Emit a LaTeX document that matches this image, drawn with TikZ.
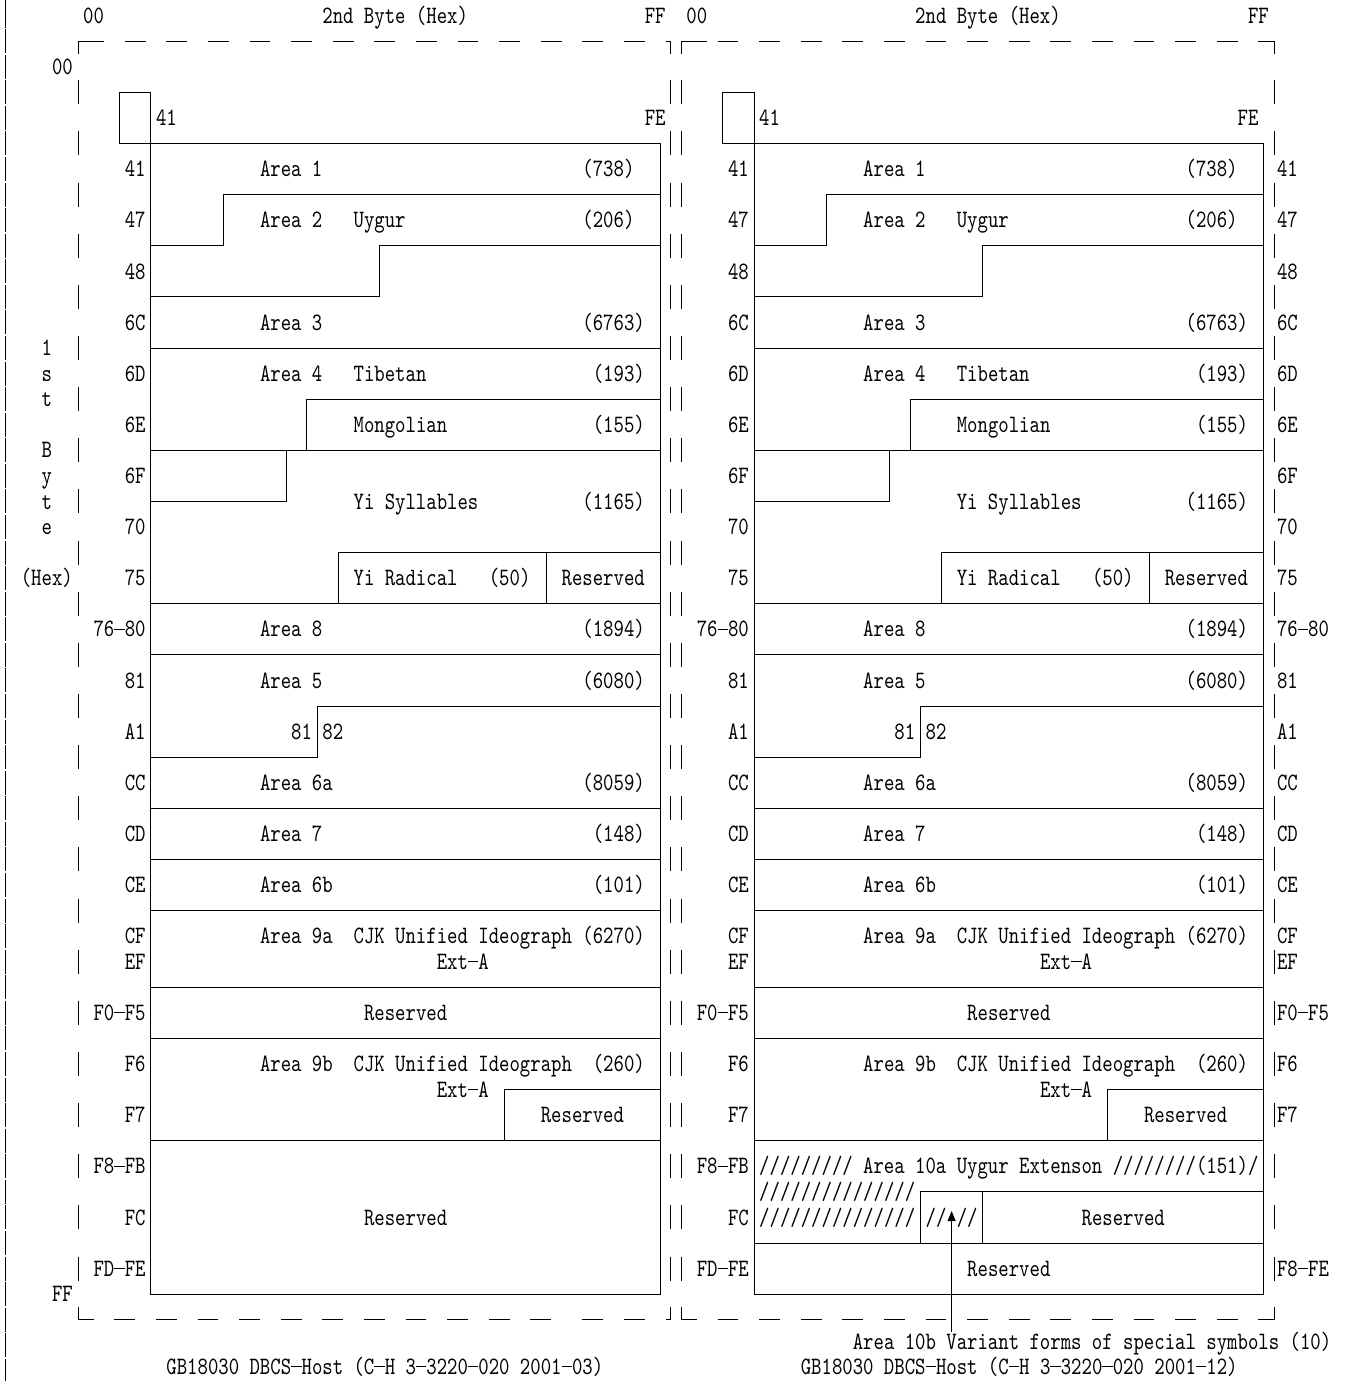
\documentclass[tikz,border=0pt]{standalone}
\usepackage{fontspec}
\newfontfamily\cour[FakeStretch=0.7924]{lmmono10-regular.otf}
\usetikzlibrary{arrows.meta}
\newcommand\bd{\rule[7.25pt]{10.4pt}{0.9pt}}
\newcommand\gy[1]{(15.6+25.57*(#1))}
\newcommand\by[1]{(23.3+25.57*(#1))}
\newcommand\vx[1]{(10.4*(#1)+5.2)}
\newcommand\cx[1]{(10.4*(#1))}
\newcommand\TL[4]{\node[txt,anchor=base west] (#1) at ({\cx{#2}},{\by{#3}}) {#4};}
\newcommand\TR[4]{\node[txt,anchor=base east] (#1) at ({\cx{#2}},{\by{#3}}) {#4};}
\newcommand\panellines{%
  \draw[ln] ({\vx{11}},{\gy{5}}) -- ({\vx{11}},{\gy{3}}) -- ({\vx{14}},{\gy{3}}) -- ({\vx{14}},{\gy{50}}) -- ({\vx{63}},{\gy{50}}) -- ({\vx{63}},{\gy{5}}) -- cycle;
  \draw[ln] ({\vx{63}},{\gy{7}}) -| ({\vx{21}},{\gy{9}}) -- ({\vx{14}},{\gy{9}});
  \draw[ln] ({\vx{63}},{\gy{9}}) -| ({\vx{36}},{\gy{11}}) -- ({\vx{14}},{\gy{11}});
  \draw[ln] ({\vx{14}},{\gy{13}}) -- ({\vx{63}},{\gy{13}});
  \draw[ln] ({\vx{63}},{\gy{15}}) -| ({\vx{29}},{\gy{17}});
  \draw[ln] ({\vx{14}},{\gy{17}}) -- ({\vx{63}},{\gy{17}});
  \draw[ln] ({\vx{27}},{\gy{17}}) |- ({\vx{14}},{\gy{19}});
  \draw[ln] ({\vx{63}},{\gy{21}}) -| ({\vx{32}},{\gy{23}});
  \draw[ln] ({\vx{52}},{\gy{21}}) -- ({\vx{52}},{\gy{23}});
  \foreach \k in {23,25,31,33,35,38,40,44} {\draw[ln] ({\vx{14}},{\gy{\k}}) -- ({\vx{63}},{\gy{\k}});}
  \draw[ln] ({\vx{63}},{\gy{27}}) -| ({\vx{30}},{\gy{29}}) -- ({\vx{14}},{\gy{29}});
  \draw[ln] ({\vx{63}},{\gy{42}}) -| ({\vx{48}},{\gy{44}});
}
\newcommand\paneltext[2]{%
  \TL{#1box41}{15+#2}{4}{41}
  \TL{#1a1}{25+#2}{6}{Area 1}\TL{#1n1}{56+#2}{6}{(738)}
  \TL{#1a2}{25+#2}{8}{Area 2}\TL{#1u}{34+#2}{8}{Uygur}\TL{#1n2}{56+#2}{8}{(206)}
  \TL{#1a3}{25+#2}{12}{Area 3}\TL{#1n3}{56+#2}{12}{(6763)}
  \TL{#1a4}{25+#2}{14}{Area 4}\TL{#1tb}{34+#2}{14}{Tibetan}\TL{#1n4}{57+#2}{14}{(193)}
  \TL{#1mg}{34+#2}{16}{Mongolian}\TL{#1n5}{57+#2}{16}{(155)}
  \TL{#1yi}{34+#2}{19}{Yi Syllables}\TL{#1n6}{56+#2}{19}{(1165)}
  \TL{#1yr}{34+#2}{22}{Yi Radical}\TL{#1n7}{47+#2}{22}{(50)}\TL{#1r1}{54+#2}{22}{Reserved}
  \TL{#1a8}{25+#2}{24}{Area 8}\TL{#1n8}{56+#2}{24}{(1894)}
  \TL{#1a5}{25+#2}{26}{Area 5}\TL{#1n9}{56+#2}{26}{(6080)}
  \TL{#1s81}{28+#2}{28}{81}\TL{#1s82}{31+#2}{28}{82}
  \TL{#1a6a}{25+#2}{30}{Area 6a}\TL{#1n10}{56+#2}{30}{(8059)}
  \TL{#1a7}{25+#2}{32}{Area 7}\TL{#1n11}{57+#2}{32}{(148)}
  \TL{#1a6b}{25+#2}{34}{Area 6b}\TL{#1n12}{57+#2}{34}{(101)}
  \TL{#1a9a}{25+#2}{36}{Area 9a}\TL{#1cjka}{34+#2}{36}{CJK Unified Ideograph}\TL{#1n13}{56+#2}{36}{(6270)}
  \TL{#1exta}{42+#2}{37}{Ext\bd A}
  \TL{#1r2}{35+#2}{39}{Reserved}
  \TL{#1a9b}{25+#2}{41}{Area 9b}\TL{#1cjkb}{34+#2}{41}{CJK Unified Ideograph}\TL{#1n14}{57+#2}{41}{(260)}
  \TL{#1extb}{42+#2}{42}{Ext\bd A}
  \TL{#1r3}{52+#2}{43}{Reserved}
  \foreach \k/\t [count=\i] in {6/41,8/47,10/48,12/6C,14/6D,16/6E,18/6F,20/70,22/75,24/76\bd80,26/81,28/A1,30/CC,32/CD,34/CE,36/CF,37/EF,39/F0\bd F5,41/F6,43/F7,45/F8\bd FB,47/FC,49/FD\bd FE}
    {\TR{#1row\i}{14+#2}{\k}{\t}}
}
\begin{document}
\begin{tikzpicture}[x=1pt,y=-1pt,
  txt/.style={inner sep=0pt,outer sep=0pt,font=\cour\fontsize{25}{25}\selectfont},
  ln/.style={line width=0.9pt}]
\useasboundingbox (0,0) rectangle (1346,1381);
\fill[white] (0,0) rectangle (1346,1381);
% far-left rule
\foreach \k in {0,...,53} {\draw[ln] (5.2,{\gy{\k}-12}) -- (5.2,{\gy{\k}+12});}
\draw[ln] (5.2,0) -- (5.2,10);
% frame vertical segments
\foreach \xx in {7,64,65,122} {
  \foreach \k in {3,5,...,49} {\draw[ln] ({\vx{\xx}},{\gy{\k}-12}) -- ({\vx{\xx}},{\gy{\k}+12});}
}
% frame top
\draw[ln] ({\vx{7}},{\gy{1}+12.5}) -- ({\vx{7}},{\gy{1}}) -- ({\cx{10}},{\gy{1}});
\foreach \c in {12,16,...,60} {\draw[ln] ({\cx{\c}},{\gy{1}}) -- ({\cx{\c+2}},{\gy{1}});}
\draw[ln] ({\cx{64}},{\gy{1}}) -- ({\vx{64}},{\gy{1}}) -- ({\vx{64}},{\gy{1}+12.5});
\draw[ln] ({\vx{65}},{\gy{1}+12.5}) -- ({\vx{65}},{\gy{1}}) -- ({\cx{68}},{\gy{1}});
\foreach \c in {69,73,...,117} {\draw[ln] ({\cx{\c}},{\gy{1}}) -- ({\cx{\c+2}},{\gy{1}});}
\draw[ln] ({\cx{121}},{\gy{1}}) -- ({\vx{122}},{\gy{1}}) -- ({\vx{122}},{\gy{1}+12.5});
% frame bottom
\draw[ln] ({\vx{7}},{\gy{51}-12.5}) -- ({\vx{7}},{\gy{51}}) -- ({\cx{9}},{\gy{51}});
\foreach \c in {11,15,...,51,56,60} {\draw[ln] ({\cx{\c}},{\gy{51}}) -- ({\cx{\c+2}},{\gy{51}});}
\draw[ln] ({\cx{64}},{\gy{51}}) -- ({\vx{64}},{\gy{51}}) -- ({\vx{64}},{\gy{51}-12.5});
\draw[ln] ({\vx{65}},{\gy{51}-12.5}) -- ({\vx{65}},{\gy{51}}) -- ({\cx{67}},{\gy{51}});
\foreach \c in {69,73,...,117} {\draw[ln] ({\cx{\c}},{\gy{51}}) -- ({\cx{\c+2}},{\gy{51}});}
\draw[ln] ({\cx{121}},{\gy{51}}) -- ({\vx{122}},{\gy{51}}) -- ({\vx{122}},{\gy{51}-12.5});
% panels
\panellines
\begin{scope}[xshift=603.2pt]
\panellines
\end{scope}
\paneltext{L}{0}
\paneltext{R}{58}
% right-side labels of right panel
\foreach \k/\t [count=\i] in {6/41,8/47,10/48,12/6C,14/6D,16/6E,18/6F,20/70,22/75,24/76\bd80,26/81,28/A1,30/CC,32/CD,34/CE,36/CF,37/EF,39/F0\bd F5,41/F6,43/F7,49/F8\bd FE}
  {\node[txt,anchor=base west] (rr\i) at (1277,{\by{\k}}) {\t};}
% top labels
\TL{t1}{8}{0}{00}\TL{t2}{31}{0}{2nd Byte (Hex)}\TL{t3}{62}{0}{FF}
\TL{t4}{66}{0}{00}\TL{t5}{88}{0}{2nd Byte (Hex)}\TL{t6}{120}{0}{FF}
\TL{t7}{5}{2}{00}\TL{t8}{5}{50}{FF}
\TL{fe1}{62}{4}{FE}\TL{fe2}{119}{4}{FE}
% vertical axis label
\foreach \k/\t [count=\i] in {13/1,14/s,15/t,17/B,18/y,19/t,20/e}
  {\node[txt,anchor=base] (v\i) at ({\vx{4}},{\by{\k}}) {\t};}
\TL{vhex}{2}{22}{(Hex)}
% left panel lower part
\TL{lres}{35}{47}{Reserved}
% right panel lower part
\draw[ln] ({\vx{88}},{\gy{48}}) -- ({\vx{88}},{\gy{46}}) -- ({\vx{121}},{\gy{46}});
\draw[ln] ({\vx{94}},{\gy{46}}) -- ({\vx{94}},{\gy{48}});
\draw[ln] ({\vx{72}},{\gy{48}}) -- ({\vx{121}},{\gy{48}});
\TL{s1}{73}{45}{///////// Area 10a Uygur Extenson ////////(151)/}
\TL{s2}{73}{46}{///////////////}
\TL{s3}{73}{47}{///////////////}
\TL{s4}{89}{47}{//}
\TL{s5}{92}{47}{//}
\TL{s6}{104}{47}{Reserved}
\TL{s7}{93}{49}{Reserved}
\coordinate (abot) at ({\vx{91}},1332);
\coordinate (atip) at ({\vx{91}},1211);
\draw[ln,-{Triangle[length=10pt,width=8pt]}] (abot) -- (atip);
\node[txt,anchor=base west] (s8) at ({\cx{82}},1349.5) {Area 10b Variant forms of special symbols (10)};
% captions
\node[txt,anchor=base west] (c1) at ({\cx{16}},1374.5) {GB18030 DBCS\bd Host (C\bd H 3\bd 3220\bd 020 2001\bd 03)};
\node[txt,anchor=base west] (c2) at ({\cx{77}},1374.5) {GB18030 DBCS\bd Host (C\bd H 3\bd 3220\bd 020 2001\bd 12)};
\end{tikzpicture}
\end{document}
